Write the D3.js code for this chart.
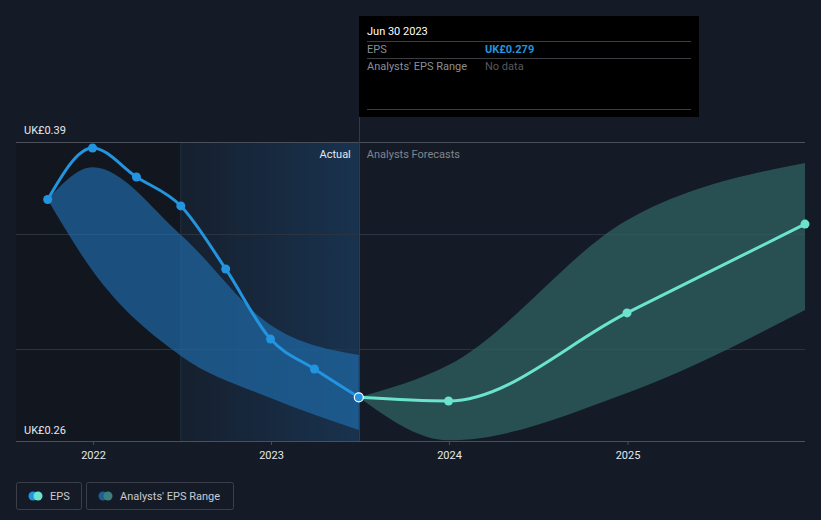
<!DOCTYPE html>
<html><head><meta charset="utf-8">
<script src="https://cdn.jsdelivr.net/npm/d3@7"></script>
<style>
html,body{margin:0;padding:0;background:#151b26;}
svg{display:block;font-family:Roboto, "Noto Sans", sans-serif;}
</style></head>
<body><svg id="c" width="821" height="520"></svg>
<script>
// ---- data ----
const epsDates = ["2021-09-30","2021-12-31","2022-03-31","2022-06-30","2022-09-30","2022-12-31","2023-03-31","2023-06-30"];
const epsValues = [0.365, 0.3874, 0.3748, 0.3622, 0.3348, 0.3043, 0.2913, 0.279];
const pastRangeDates = ["2021-09-30","2021-12-31","2022-06-30","2022-12-31","2023-06-30"];
const pastRangeLow = [0.365, 0.334, 0.297, 0.2787, 0.2648];
const pastRangeHigh = [0.365, 0.379, 0.3496, 0.3104, 0.2974];
const fcDates = ["2023-06-30","2023-12-31","2024-12-31","2025-12-31"];
const fcValues = [0.279, 0.2774, 0.3157, 0.3543];
const fcLow = [0.279, 0.2603, 0.2809, 0.317];
const fcHigh = [0.279, 0.293, 0.356, 0.3809];
const yTicks = [0.30, 0.35, 0.39];
const yLabels = ["UK£0.39", "UK£0.26"];
const xTicks = ["2022-01-01","2023-01-01","2024-01-01","2025-01-01"];
const tooltipDate = "Jun 30 2023";
const tooltipEps = "UK£0.279";

(function(){
const parse = d3.timeParse("%Y-%m-%d");
const svg = d3.select("#c");
const L = 16, R = 805, T = 142, B = 441;

const x = d3.scaleTime().domain([parse("2021-07-27"), parse("2025-12-31")]).range([L, R]);
const y = d3.scaleLinear().domain([0.26, 0.39]).range([B, T]);

const nowX = x(parse("2023-06-30"));
const yearAgoX = x(parse("2022-06-30"));

const defs = svg.append("defs");
const g1 = defs.append("linearGradient").attr("id","hl").attr("x1","0").attr("x2","1").attr("y1","0").attr("y2","0");
g1.append("stop").attr("offset","0").attr("stop-color","#1a3a5c").attr("stop-opacity",0.15);
g1.append("stop").attr("offset","1").attr("stop-color","#1a3a5c").attr("stop-opacity",0.75);

svg.append("rect").attr("x", L).attr("y", T).attr("width", yearAgoX-L).attr("height", B-T)
  .attr("fill", "#12161e").attr("opacity", 0.8);
svg.append("rect").attr("x", yearAgoX).attr("y", T).attr("width", nowX-yearAgoX).attr("height", B-T)
  .attr("fill", "url(#hl)");
svg.append("line").attr("x1", yearAgoX).attr("x2", yearAgoX).attr("y1", T).attr("y2", B)
  .attr("stroke", "#1f3146").attr("stroke-width", 1);

svg.selectAll(".grid").data(yTicks).join("line")
  .attr("x1", L).attr("x2", R).attr("y1", d=>Math.round(y(d))+0.5).attr("y2", d=>Math.round(y(d))+0.5)
  .attr("stroke", d => d===0.39 ? "#4a4f5a" : "#2c3340").attr("stroke-width", 1);

const pastBand = pastRangeDates.map((d,i)=>({d:parse(d), lo:pastRangeLow[i], hi:pastRangeHigh[i]}));
const fcBand = fcDates.map((d,i)=>({d:parse(d), lo:fcLow[i], hi:fcHigh[i]}));
const area = d3.area().x(d=>x(d.d)).y0(d=>y(d.lo)).y1(d=>y(d.hi)).curve(d3.curveMonotoneX);
svg.append("path").attr("d", area(pastBand)).attr("fill", "#1f6aa6").attr("opacity", 0.7);
svg.append("path").attr("d", area(fcBand)).attr("fill", "#2f6363").attr("opacity", 0.75);

svg.append("line").attr("x1", L).attr("x2", R).attr("y1", B+0.5).attr("y2", B+0.5)
  .attr("stroke", "#4a4f5a");
const xa = svg.append("g").attr("transform", `translate(0,${B})`)
  .call(d3.axisBottom(x).tickValues(xTicks.map(parse)).tickFormat(d3.timeFormat("%Y")).tickSize(4).tickPadding(6));
xa.select(".domain").remove();
xa.selectAll(".tick line").attr("stroke", "#4a4f5a");
xa.selectAll(".tick text").attr("fill", "#e6e8ec").attr("font-size", 11).attr("font-family","Roboto, sans-serif");

svg.append("text").attr("x", 24).attr("y", y(0.39)-8).text(yLabels[0]).attr("fill","#e6e8ec").attr("font-size",11);
svg.append("text").attr("x", 24).attr("y", y(0.26)-7).text(yLabels[1]).attr("fill","#e6e8ec").attr("font-size",11);

svg.append("line").attr("x1", Math.round(nowX)+0.5).attr("x2", Math.round(nowX)+0.5).attr("y1", 117).attr("y2", B)
  .attr("stroke", "#2b3d52").attr("stroke-width", 1);

svg.append("text").attr("x", nowX-8).attr("y", 158).attr("text-anchor","end").text("Actual").attr("fill","#e6e8ec").attr("font-size",11);
svg.append("text").attr("x", nowX+8).attr("y", 158).text("Analysts Forecasts").attr("fill","#80858e").attr("font-size",11);

const eps = epsDates.map((d,i)=>({d:parse(d), v:epsValues[i]}));
const fc = fcDates.map((d,i)=>({d:parse(d), v:fcValues[i]}));
const line = d3.line().x(d=>x(d.d)).y(d=>y(d.v)).curve(d3.curveMonotoneX);
svg.append("path").attr("d", line(eps)).attr("fill","none").attr("stroke","#2394df").attr("stroke-width",3);
svg.append("path").attr("d", line(fc)).attr("fill","none").attr("stroke","#6be3cf").attr("stroke-width",3);
svg.selectAll(".ep").data(eps.slice(0,-1)).join("circle").attr("cx",d=>x(d.d)).attr("cy",d=>y(d.v)).attr("r",4.5).attr("fill","#2394df");
svg.selectAll(".fp").data(fc.slice(1)).join("circle").attr("cx",d=>x(d.d)).attr("cy",d=>y(d.v)).attr("r",4.5).attr("fill","#6be3cf");
svg.append("circle").attr("cx", x(eps[eps.length-1].d)).attr("cy", y(eps[eps.length-1].v)).attr("r",4.5)
  .attr("fill","#2394df").attr("stroke","#ffffff").attr("stroke-width",1.2);

const tt = svg.append("g");
tt.append("rect").attr("x",359).attr("y",16).attr("width",340).attr("height",101).attr("fill","#000000");
tt.append("text").attr("x",367).attr("y",35).text(tooltipDate).attr("fill","#ffffff").attr("font-size",11);
[41,58,109].forEach(yy=>tt.append("line").attr("x1",367).attr("x2",691).attr("y1",yy+0.5).attr("y2",yy+0.5).attr("stroke","#3a3d42"));
tt.append("text").attr("x",367).attr("y",53).text("EPS").attr("fill","#8a8f96").attr("font-size",11);
tt.append("text").attr("x",485).attr("y",53).text(tooltipEps).attr("fill","#2394df").attr("font-size",11).attr("font-weight","bold");
tt.append("text").attr("x",367).attr("y",70).text("Analysts' EPS Range").attr("fill","#8a8f96").attr("font-size",11);
tt.append("text").attr("x",485).attr("y",70).text("No data").attr("fill","#55595f").attr("font-size",11);

const lg = svg.append("g");
lg.append("rect").attr("x",16.5).attr("y",482.5).attr("width",65).attr("height",27).attr("rx",2).attr("fill","none").attr("stroke","#3a3f49");
lg.append("circle").attr("cx",33).attr("cy",496).attr("r",4.5).attr("fill","#2394df");
lg.append("circle").attr("cx",38).attr("cy",496).attr("r",4.5).attr("fill","#6be3cf");
lg.append("text").attr("x",50).attr("y",500).text("EPS").attr("fill","#c8cbd0").attr("font-size",11);
lg.append("rect").attr("x",86.5).attr("y",482.5).attr("width",147).attr("height",27).attr("rx",2).attr("fill","none").attr("stroke","#3a3f49");
lg.append("circle").attr("cx",103).attr("cy",496).attr("r",4.5).attr("fill","#1f5f90");
lg.append("circle").attr("cx",108).attr("cy",496).attr("r",4.5).attr("fill","#3d7f7e");
lg.append("text").attr("x",120).attr("y",500).text("Analysts' EPS Range").attr("fill","#c8cbd0").attr("font-size",11);
})();
</script></body></html>
